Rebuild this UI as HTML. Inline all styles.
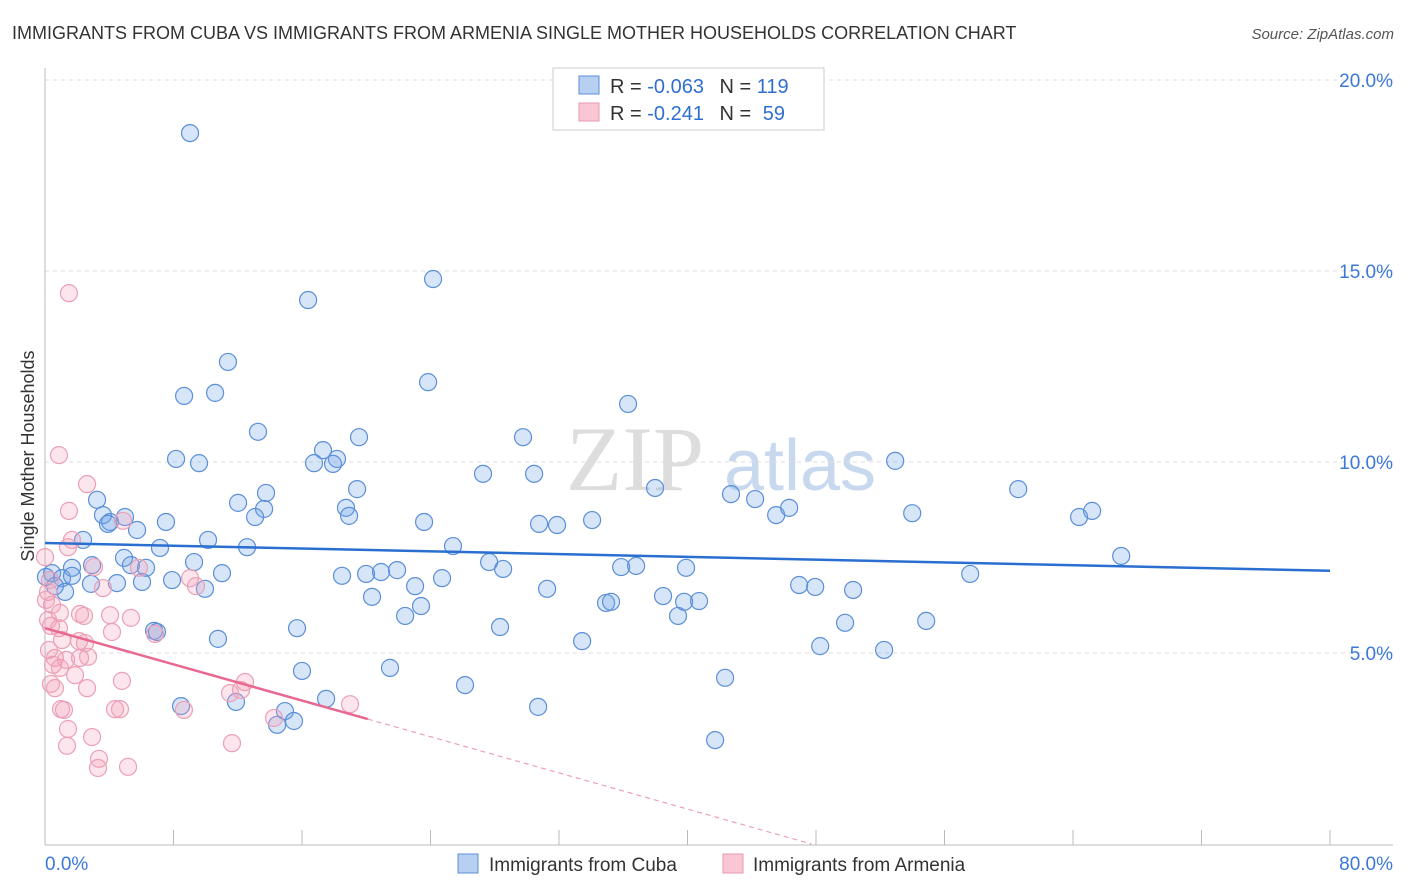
<!DOCTYPE html>
<html><head><meta charset="utf-8"><style>
body{margin:0;background:#fff;font-family:"Liberation Sans",sans-serif;}
svg{display:block}
</style></head><body>
<svg id="chart" width="1406" height="892">
<text x="12" y="39" font-size="18" fill="#333">IMMIGRANTS FROM CUBA VS IMMIGRANTS FROM ARMENIA SINGLE MOTHER HOUSEHOLDS CORRELATION CHART</text>
<text x="1394" y="39" font-size="15" fill="#555" font-style="italic" text-anchor="end">Source: ZipAtlas.com</text>
<g>
<text x="635" y="490" font-size="92" fill="#ddd" font-family="Liberation Serif,serif" text-anchor="middle">ZIP</text>
<text x="800" y="490" font-size="72" fill="#c8d8ee" text-anchor="middle">atlas</text>
</g>
<g id="grid"></g>
<g id="axes"></g>
<g id="marks"></g>
<text transform="translate(34,456) rotate(-90)" font-size="18" fill="#333" text-anchor="middle">Single Mother Households</text>
<g>
<rect x="553" y="68" width="271" height="62" fill="#fff" stroke="#ccc"/>
<rect x="579" y="76" width="20" height="18" fill="#b7d0f2" stroke="#5b8fd8"/>
<rect x="579" y="103" width="20" height="18" fill="#f9c6d4" stroke="#e89ab0"/>
<text x="610" y="93" font-size="20" fill="#333">R = <tspan fill="#2f6fd0">-0.063</tspan>  <tspan dx="10">N = </tspan><tspan fill="#2f6fd0">119</tspan></text>
<text x="610" y="120" font-size="20" fill="#333">R =  <tspan fill="#2f6fd0">-0.241</tspan>  <tspan dx="10">N = </tspan><tspan dx="6" fill="#2f6fd0">59</tspan></text>
</g>
<g>
<rect x="458" y="854" width="20" height="19" fill="#b7d0f2" stroke="#5b8fd8"/>
<text x="489" y="871" font-size="19" fill="#333">Immigrants from Cuba</text>
<rect x="723" y="854" width="20" height="19" fill="#f9c6d4" stroke="#e89ab0"/>
<text x="753" y="871" font-size="19" fill="#333">Immigrants from Armenia</text>
</g>
</svg>
<script>
const yTicks=[5,10,15,20];
const yTickLabels=["5.0%","10.0%","15.0%","20.0%"];
const xTickLabels=["0.0%","80.0%"];
const cubaX=[9.03,24.16,16.38,11.39,23.85,8.66,10.59,36.30,13.26,19.55,29.76,17.31,18.18,8.16,9.59,16.75,17.93,52.93,27.27,30.45,3.24,13.76,12.02,19.43,37.98,42.71,44.21,60.59,18.74,13.64,18.93,3.61,4.05,4.98,3.92,7.53,13.08,23.60,30.76,31.88,34.06,45.52,46.33,53.99,64.38,65.19,5.73,10.15,2.37,7.16,12.58,25.40,4.92,9.28,67.00,1.68,2.93,5.35,6.29,0.44,1.06,0.06,0.62,1.25,1.68,2.86,4.48,6.04,7.91,11.02,18.49,19.99,20.92,21.92,23.04,24.72,27.65,28.52,31.26,35.87,36.80,39.91,57.60,9.96,20.36,23.41,22.42,34.93,35.24,38.48,39.79,40.72,46.95,47.95,50.31,39.41,49.81,54.86,6.79,6.97,10.77,15.69,28.33,33.44,48.26,52.24,16.00,21.48,42.34,26.15,8.47,11.89,17.50,30.70,14.94,15.50,14.45,41.72];
const cubaY=[18.61,14.79,14.24,12.62,12.09,11.73,11.81,11.52,10.79,10.65,10.65,10.31,10.08,10.08,9.97,9.97,9.95,10.03,9.69,9.69,9.01,9.19,8.93,9.29,9.32,9.16,9.03,9.29,8.80,8.77,8.59,8.61,8.43,8.56,8.38,8.43,8.56,8.43,8.38,8.35,8.48,8.61,8.80,8.66,8.56,8.72,8.22,7.96,7.96,7.75,7.77,7.80,7.49,7.38,7.54,7.23,7.30,7.30,7.23,7.09,6.96,6.99,6.75,6.60,7.02,6.81,6.83,6.86,6.91,7.09,7.02,7.07,7.12,7.17,6.75,6.96,7.38,7.20,6.68,7.25,7.28,7.23,7.07,6.68,6.47,6.23,5.97,6.31,6.34,6.49,6.34,6.36,6.78,6.73,6.65,5.97,5.79,5.84,5.58,5.55,5.37,5.65,5.68,5.31,5.18,5.08,4.53,4.61,4.35,4.16,3.61,3.72,3.80,3.59,3.48,3.22,3.12,2.72];
const armX=[1.49,0.87,2.62,1.49,1.43,1.68,0.31,0.19,0.44,2.18,2.43,4.05,5.35,4.17,0.37,0.87,1.06,2.12,2.49,0.25,0.62,1.31,0.50,0.93,1.87,2.68,2.18,0.37,0.62,2.62,4.79,1.00,1.18,4.36,4.67,1.43,2.93,1.37,3.36,3.30,5.17,0.93,0.19,3.61,5.85,9.03,9.40,11.52,12.20,12.45,8.65,14.26,18.99,11.64,6.85,4.86,0.00,0.06,3.05];
const armY=[14.42,10.18,9.42,8.72,7.77,7.96,6.91,6.60,6.26,6.02,5.97,5.99,5.92,5.55,5.71,5.65,5.34,5.31,5.26,5.08,4.87,4.82,4.69,4.61,4.42,4.90,4.87,4.19,4.08,4.08,4.27,3.53,3.51,3.53,3.53,3.01,2.80,2.57,2.23,1.99,2.02,6.05,5.86,6.70,7.23,6.96,6.75,3.95,4.03,4.24,3.51,3.30,3.66,2.64,5.50,8.46,7.51,6.39,7.25];
const cubaTrend=[7.88,-0.0091];
const armTrend=[5.65,-0.1184];
const armSolidEnd=20.1;

const X0=45,X1=1330,XMAX=80,Y0=844,PPY=38.2;
const sx=v=>X0+v*(X1-X0)/XMAX;
const sy=v=>Y0-v*PPY;
const NS="http://www.w3.org/2000/svg";
function mk(tag,attrs,parent){const e=document.createElementNS(NS,tag);for(const k in attrs)e.setAttribute(k,attrs[k]);parent.appendChild(e);return e;}
const grid=document.getElementById('grid'),axes=document.getElementById('axes'),marks=document.getElementById('marks');
yTicks.forEach((t,i)=>{
  const l=mk('line',{x1:45,x2:1393,y1:sy(t),y2:sy(t),stroke:'#ddd','stroke-dasharray':'4,4'},grid);
  
  
  const tx=mk('text',{x:1393,y:sy(t)+7,'font-size':19,fill:'#3b78d8','text-anchor':'end'},axes);
  tx.textContent=yTickLabels[i];
  
  
});
const la=mk('line',{x1:45,x2:45,y1:68,y2:845,stroke:'#bbb'},axes);


const ba=mk('line',{x1:45,x2:1393,y1:845,y2:845,stroke:'#bbb'},axes);


for(let v=8;v<=80;v+=8){
  const t=mk('line',{x1:sx(v),x2:sx(v),y1:830,y2:845,stroke:'#bbb'},axes);
  
  
}
[[0,'start',45],[80,'end',1393]].forEach((a,i)=>{
  const tx=mk('text',{x:a[2],y:870,'font-size':19,fill:'#3b78d8','text-anchor':a[1]},axes);
  tx.textContent=xTickLabels[i];
  
  
});
cubaX.forEach((x,i)=>{
  const c=mk('circle',{cx:sx(x),cy:sy(cubaY[i]),r:8.5,fill:'rgba(110,160,230,0.28)',stroke:'#5b8fd8','stroke-width':1.2},marks);
  
  
});
armX.forEach((x,i)=>{
  const c=mk('circle',{cx:sx(x),cy:sy(armY[i]),r:8.5,fill:'rgba(245,160,185,0.28)',stroke:'#eba0b6','stroke-width':1.2},marks);
  
  
});
const bl=mk('line',{x1:sx(0),y1:sy(cubaTrend[0]),x2:sx(80),y2:sy(cubaTrend[0]+cubaTrend[1]*80),stroke:'#2a6fd0','stroke-width':2.5},marks);


const pl=mk('line',{x1:sx(0),y1:sy(armTrend[0]),x2:sx(armSolidEnd),y2:sy(armTrend[0]+armTrend[1]*armSolidEnd),stroke:'#e8688f','stroke-width':2.5},marks);


const zeroX=-armTrend[0]/armTrend[1];
const pd=mk('line',{x1:sx(armSolidEnd),y1:sy(armTrend[0]+armTrend[1]*armSolidEnd),x2:sx(zeroX),y2:sy(0),stroke:'#eba0b6','stroke-width':1.2,'stroke-dasharray':'5,4'},marks);


</script>
</body></html>
